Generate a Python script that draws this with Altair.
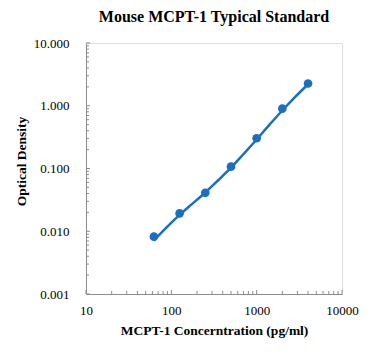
import altair as alt
import pandas as pd

conc = [62.5, 125, 250, 500, 1000, 2000, 4000]
od = [0.0082, 0.0193, 0.041, 0.107, 0.303, 0.90, 2.26]

curve_conc = [62.5, 88, 125, 177, 250, 354, 500, 707, 1000, 1414, 2000, 2828, 4000]
curve_od = [0.0071, 0.0115, 0.0182, 0.0275, 0.0415, 0.065, 0.103, 0.172, 0.29, 0.50, 0.84, 1.38, 2.2]

x_major = [10, 100, 1000, 10000]
x_minor = [m * 10 ** k for k in (1, 2, 3) for m in range(2, 10)]
y_major = [0.001, 0.01, 0.1, 1, 10]
y_minor = [m * 10.0 ** k for k in (-3, -2, -1, 0) for m in range(2, 10)]

BLUE = "#1B6EC2"
GRAY = "#8C8C8C"
FONT = "Liberation Serif"
W, H = 256, 251

xs = alt.Scale(type="log", domain=[10, 10000])
ys = alt.Scale(type="log", domain=[0.001, 10])

pts = pd.DataFrame({"c": conc, "od": od})
cur = pd.DataFrame({"c": curve_conc, "od": curve_od})

base_x = alt.X("c:Q", scale=xs, axis=alt.Axis(
    values=x_major, format="d", ticks=False, grid=False, domainColor=GRAY,
    labelFont=FONT, labelFontSize=13, labelColor="#000", labelPadding=10,
    labelFlush=False, labelOverlap=False,
    title="MCPT-1 Concerntration (pg/ml)", titleFont=FONT, titleFontSize=13.5,
    titleFontWeight="bold", titleColor="#000", titlePadding=6))
base_y = alt.Y("od:Q", scale=ys, axis=alt.Axis(
    values=y_major, format=".3f", ticks=False, grid=False, domainColor=GRAY,
    labelFont=FONT, labelFontSize=13, labelColor="#000", labelPadding=17,
    labelFlush=False, labelOverlap=False,
    title="Optical Density", titleFont=FONT, titleFontSize=13.5,
    titleFontWeight="bold", titleColor="#000", titlePadding=5, titleY=118))

line = alt.Chart(cur).mark_line(color=BLUE, strokeWidth=2.5, interpolate="monotone", clip=True).encode(
    x=base_x, y=base_y)
points = alt.Chart(pts).mark_circle(color=BLUE, opacity=1, size=75).encode(
    x=alt.X("c:Q", scale=xs), y=alt.Y("od:Q", scale=ys))

xt_major = alt.Chart(pd.DataFrame({"c": x_major})).mark_rule(color=GRAY).encode(
    x=alt.X("c:Q", scale=xs), y=alt.value(H), y2=alt.value(H - 4))
xt_minor = alt.Chart(pd.DataFrame({"c": x_minor})).mark_rule(color=GRAY).encode(
    x=alt.X("c:Q", scale=xs), y=alt.value(H), y2=alt.value(H - 3))
yt_major = alt.Chart(pd.DataFrame({"od": y_major})).mark_rule(color=GRAY).encode(
    y=alt.Y("od:Q", scale=ys), x=alt.value(0), x2=alt.value(4))
yt_minor = alt.Chart(pd.DataFrame({"od": y_minor})).mark_rule(color=GRAY).encode(
    y=alt.Y("od:Q", scale=ys), x=alt.value(0), x2=alt.value(3))

chart = alt.layer(line, xt_major, xt_minor, yt_major, yt_minor, points).properties(
    width=W, height=H,
    title=alt.TitleParams("Mouse MCPT-1 Typical Standard", font=FONT, fontSize=16,
                          fontWeight="bold", color="#000", anchor="middle", offset=12),
    autosize=alt.AutoSizeParams(type="none"),
    padding={"left": 86, "top": 43, "right": 29, "bottom": 58},
).configure_view(stroke=None).configure(background="white")

chart.save("out.html", embed_options={"renderer": "svg", "actions": False})
